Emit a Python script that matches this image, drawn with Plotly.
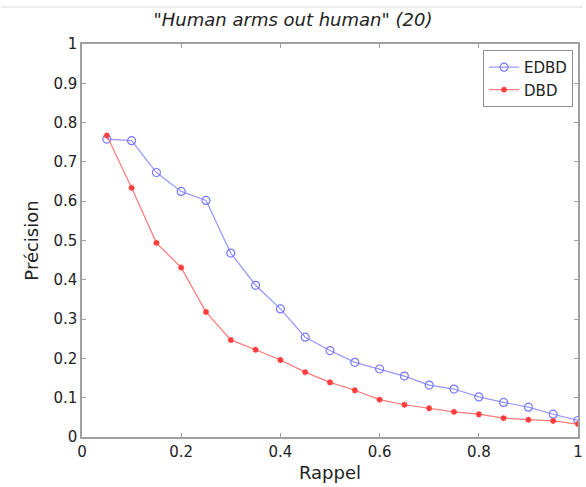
import plotly.graph_objects as go

rappel = [0.05, 0.10, 0.15, 0.20, 0.25, 0.30, 0.35, 0.40, 0.45, 0.50,
          0.55, 0.60, 0.65, 0.70, 0.75, 0.80, 0.85, 0.90, 0.95, 1.00]
edbd = [0.758, 0.754, 0.673, 0.625, 0.602, 0.468, 0.386, 0.326, 0.254, 0.220,
        0.190, 0.173, 0.155, 0.132, 0.122, 0.102, 0.088, 0.076, 0.058, 0.042]
dbd = [0.767, 0.634, 0.494, 0.431, 0.318, 0.247, 0.222, 0.196, 0.165, 0.139,
       0.119, 0.095, 0.082, 0.073, 0.064, 0.058, 0.048, 0.044, 0.041, 0.033]

title = '"Human arms out human" (20)'
xlabel = "Rappel"
ylabel = "Précision"

FONT = "DejaVu Sans"

fig = go.Figure()
fig.add_trace(go.Scatter(
    x=rappel, y=edbd, mode="lines+markers", name="EDBD",
    line=dict(color="rgb(150,150,255)", width=1.2),
    marker=dict(symbol="circle-open", size=8, color="rgb(120,120,255)", line=dict(width=1.2)),
))
fig.add_trace(go.Scatter(
    x=rappel, y=dbd, mode="lines+markers", name="DBD",
    line=dict(color="rgb(255,120,120)", width=1.2),
    marker=dict(symbol="asterisk-open", size=5, color="rgb(255,60,60)", line=dict(width=1.6, color="rgb(255,60,60)")),
))

axis_common = dict(
    showgrid=False, zeroline=False, showline=True, linecolor="#a0a0a0", linewidth=1.5,
    mirror="allticks", ticks="inside", ticklen=4, tickcolor="#a0a0a0",
    tickfont=dict(family=FONT, size=15, color="#222"),
)

fig.update_layout(
    width=586, height=487,
    margin=dict(l=82, r=3, t=44, b=50),
    paper_bgcolor="white", plot_bgcolor="white",
    title=dict(text=title, x=0.5, xref="container", xanchor="center", y=1 - 20 / 487, yref="container",
               yanchor="middle",
               font=dict(family=FONT, size=18, color="#222", style="italic")),
    xaxis=dict(range=[0, 1], tickvals=[0, 0.2, 0.4, 0.6, 0.8, 1],
               ticktext=["0", "0.2", "0.4", "0.6", "0.8", "1"],
               title=dict(text=xlabel, standoff=7, font=dict(family=FONT, size=18, color="#222")),
               **axis_common),
    yaxis=dict(range=[0, 1], tickvals=[i / 10 for i in range(11)],
               ticktext=["0", "0.1", "0.2", "0.3", "0.4", "0.5", "0.6", "0.7", "0.8", "0.9", "1"],
               title=dict(text=ylabel, standoff=10, font=dict(family=FONT, size=18, color="#222")),
               **axis_common),
    legend=dict(x=0.99, y=0.985, xanchor="right", yanchor="top",
                bgcolor="white", bordercolor="#909090", borderwidth=1,
                font=dict(family=FONT, size=15, color="#222"),
                itemwidth=30, tracegroupgap=0),
    showlegend=True,
)

fig.add_shape(type="line", xref="paper", yref="paper",
              x0=-82 / 501, x1=1.01, y0=1 + 37 / 393, y1=1 + 37 / 393,
              line=dict(color="#dcdcdc", width=1))

fig.write_html("out.html")
